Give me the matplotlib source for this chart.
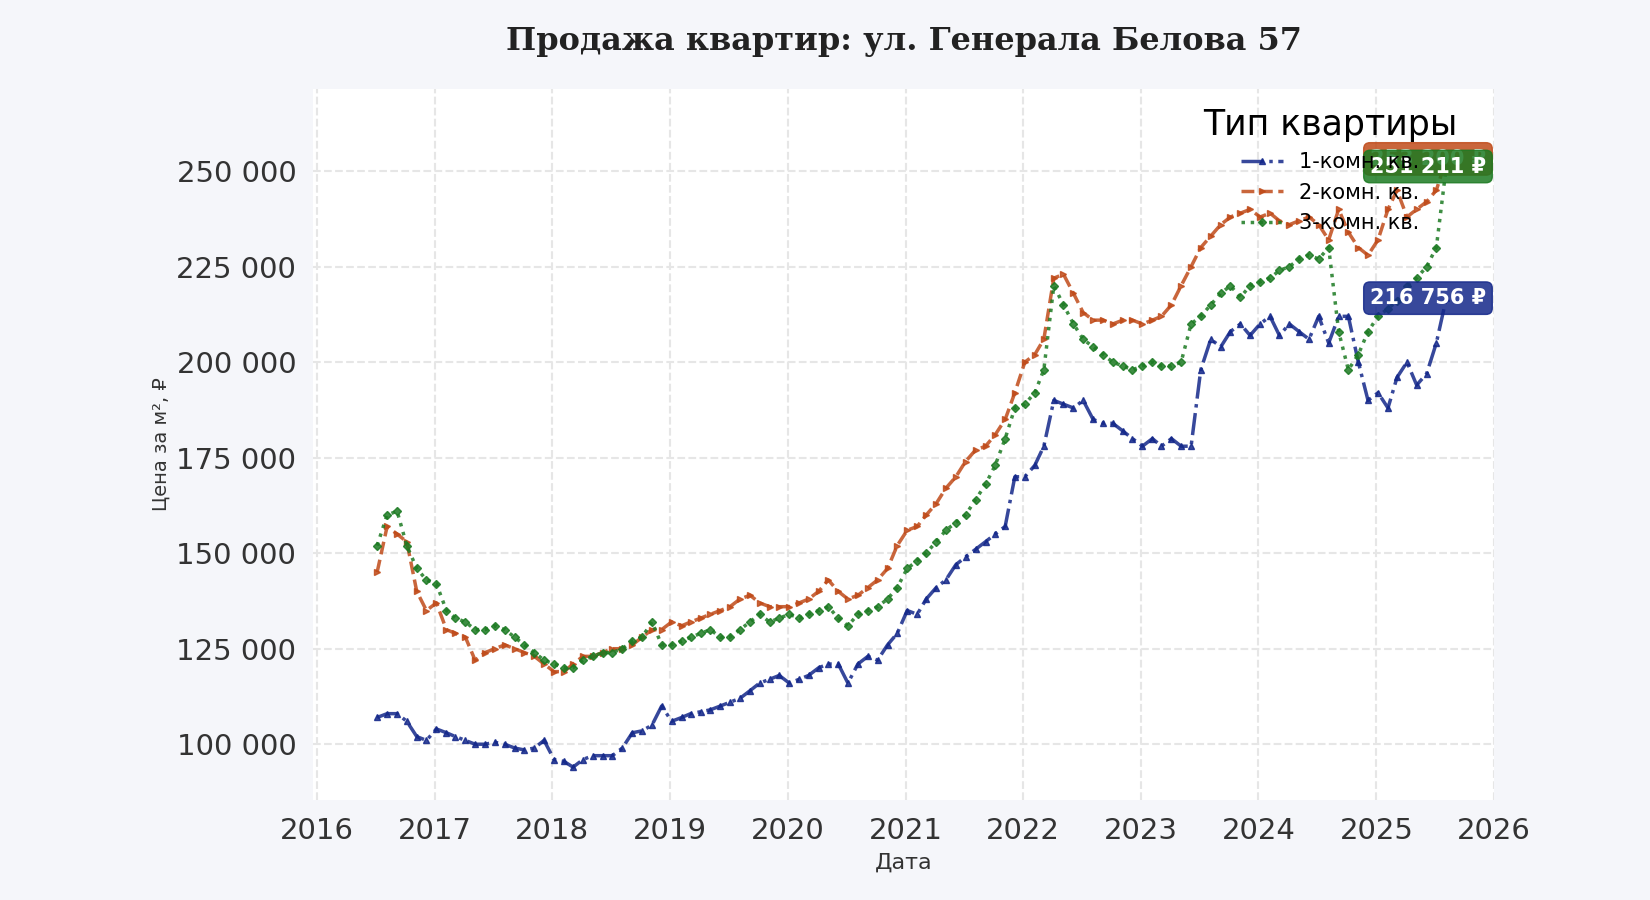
import matplotlib
matplotlib.use("Agg")
import matplotlib.pyplot as plt
import matplotlib.dates as mdates
import matplotlib.ticker as mticker
import pandas as pd

dates = pd.date_range("2016-06-15", periods=110, freq="MS") + pd.Timedelta(days=5)

one_room = [107,108,108,106,102,101,104,
 103,102,101,100,100,100.5,100,99,98.5,99,101,96,
 95.5,94,96,97,97,97,99,103,103.5,105,110,106,
 107,108,108.5,109,110,111,112,114,116,117,118,116,
 117,118,120,121,121,116,121,123,122,126,129,135,
 134,138,141,143,147,149,151,153,155,157,170,170,
 173,178,190,189,188,190,185,184,184,182,180,178,
 180,178,180,178,178,198,206,204,208,210,207,210,
 212,207,210,208,206,212,205,212,212,200,190,192,
 188,196,200,194,197,205,216.756]
two_room = [145,157,155,153,140,135,137,
 130,129,128,122,124,125,126,125,124,123,121,119,
 119,121,123,123,124,125,125,126,128,130,130,132,
 131,132,133,134,135,136,138,139,137,136,136,136,
 137,138,140,143,140,138,139,141,143,146,152,156,
 157,160,163,167,170,174,177,178,181,185,192,200,
 202,206,222,223,218,213,211,211,210,211,211,210,
 211,212,215,220,225,230,233,236,238,239,240,238,
 239,237,236,237,238,236,232,240,234,230,228,232,
 240,245,238,240,242,245,253.2]
three_room = [152,160,161,152,146,143,142,
 135,133,132,130,130,131,130,128,126,124,122,121,
 120,120,122,123,124,124,125,127,128,132,126,126,
 127,128,129,130,128,128,130,132,134,132,133,134,
 133,134,135,136,133,131,134,135,136,138,141,146,
 148,150,153,156,158,160,164,168,173,180,188,189,
 192,198,220,215,210,206,204,202,200,199,198,199,
 200,199,199,200,210,212,215,218,220,217,220,221,
 222,224,225,227,228,227,230,208,198,202,208,212,
 214,216,220,222,225,230,251.211]

labels = ["1-комн. кв.", "2-комн. кв.", "3-комн. кв."]
colors = ["#14288a", "#c04b1a", "#1c7a22"]
styles = [("-.", "^"), ("--", ">"), (":", "D")]
series = [one_room, two_room, three_room]

fig = plt.figure(figsize=(16.5, 9), dpi=100, facecolor="#f5f6fa")
ax = fig.add_axes([313/1650, 100/900, 1181/1650, 711/900])
ax.set_facecolor("white")
for s, lab, c, (ls, mk) in zip(series, labels, colors, styles):
    vals = [v * 1000 for v in s]
    ax.plot(dates, vals, linestyle=ls, marker=mk, markersize=4, color=c,
            lw=2.5, alpha=0.85, label=lab)

ax.set_xlim(pd.Timestamp("2015-12-20"), pd.Timestamp("2026-01-01"))
ax.set_ylim(85400, 271500)
ax.xaxis.set_major_locator(mdates.YearLocator())
ax.xaxis.set_major_formatter(mdates.DateFormatter("%Y"))
ax.yaxis.set_major_locator(mticker.MultipleLocator(25000))
ax.yaxis.set_major_formatter(mticker.FuncFormatter(lambda v, p: f"{int(v):,}".replace(",", " ")))
ax.tick_params(labelsize=21, colors="#333333", length=0, pad=12)
ax.grid(True, linestyle="--", color="#e6e6e6", lw=1.5)
for sp in ax.spines.values():
    sp.set_visible(False)

ax.set_title("Продажа квартир: ул. Генерала Белова 57", fontsize=23, fontweight="bold",
             family="DejaVu Serif", color="#222222", pad=28)
ax.set_xlabel("Дата", fontsize=16, color="#333333", labelpad=6)
ax.set_ylabel("Цена за м², ₽", fontsize=14, color="#333333")

leg = ax.legend(title="Тип квартиры", loc="upper right", frameon=False, fontsize=15,
                title_fontsize=25, bbox_to_anchor=(0.985, 1.0))

for s, c in [(two_room, colors[1]), (three_room, colors[2]), (one_room, colors[0])]:
    v = s[-1] * 1000
    ax.annotate(f"{int(round(v)):,} ₽".replace(",", " "), xy=(dates[-1], v),
                xytext=(-55, 0), textcoords="offset points", va="center", ha="left",
                fontsize=15, fontweight="bold", color="white",
                bbox=dict(boxstyle="round,pad=0.3", fc=c, ec=c, alpha=0.85))

fig.savefig("out.png", dpi=100, facecolor=fig.get_facecolor())
